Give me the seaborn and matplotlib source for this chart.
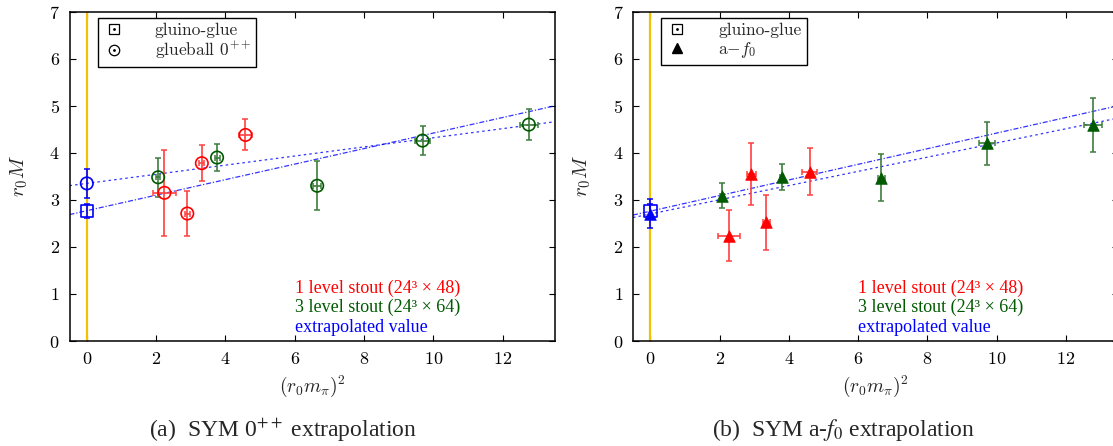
import numpy as np
import pandas as pd
import matplotlib
matplotlib.use("Agg")
import matplotlib.pyplot as plt
import seaborn as sns
from matplotlib.lines import Line2D
from matplotlib.legend_handler import HandlerTuple

# ---------------- data ----------------
# panel (a): glueball 0++
a_red_x = [2.24, 2.90, 3.32, 4.58]
a_red_y = [3.15, 2.71, 3.78, 4.38]
a_red_yerr = [0.92, 0.48, 0.38, 0.33]
a_red_xerr = [0.34, 0.07, 0.07, 0.20]

a_green_x = [2.06, 3.76, 6.65, 9.69, 12.76]
a_green_y = [3.48, 3.90, 3.30, 4.26, 4.60]
a_green_yerr = [0.42, 0.29, 0.52, 0.30, 0.33]
a_green_xerr = [0.05, 0.07, 0.12, 0.23, 0.27]

a_ext_x = [0.0, 0.0]
a_ext_y = [2.76, 3.35]          # gluino-glue, glueball
a_ext_yerr = [0.15, 0.30]

a_fit_intercept = [2.77, 3.35]  # gluino-glue fit, glueball fit
a_fit_slope = [0.165, 0.097]

# panel (b): a-f0
b_red_x = [2.27, 2.92, 3.35, 4.60]
b_red_y = [2.24, 3.55, 2.52, 3.60]
b_red_yerr = [0.55, 0.66, 0.58, 0.50]
b_red_xerr = [0.33, 0.12, 0.10, 0.22]

b_green_x = [2.07, 3.79, 6.67, 9.72, 12.78]
b_green_y = [3.09, 3.49, 3.47, 4.20, 4.59]
b_green_yerr = [0.27, 0.27, 0.50, 0.46, 0.58]
b_green_xerr = [0.05, 0.05, 0.10, 0.24, 0.27]

b_ext_x = [0.0, 0.0]
b_ext_y = [2.76, 2.71]          # gluino-glue, a-f0
b_ext_yerr = [0.15, 0.31]

b_fit_intercept = [2.76, 2.70]
b_fit_slope = [0.166, 0.151]

x_ticks = [0, 2, 4, 6, 8, 10, 12]
y_ticks = [0, 1, 2, 3, 4, 5, 6, 7]
text_lines = ["1 level stout (24\u00b3 \u00d7 48)",
              "3 level stout (24\u00b3 \u00d7 64)",
              "extrapolated value"]
captions = [r"(a)  SYM 0$^{++}$ extrapolation",
            r"(b)  SYM a-$f_0$ extrapolation"]

# ---------------- styling ----------------
sns.set_theme(style="ticks")
plt.rcParams["font.family"] = ["cmr10", "DejaVu Serif"]
plt.rcParams["mathtext.fontset"] = "cm"
plt.rcParams["axes.unicode_minus"] = False
plt.rcParams["axes.formatter.use_mathtext"] = True

RED = "#ff0000"
RED_E = "#ff4040"
GREEN = "#005a00"
GREEN_E = "#3d7d3d"
BLUE = "#0000ff"
YELLOW = "#f2c200"

W, H = 1113, 446
fig = plt.figure(figsize=(W / 100, H / 100), dpi=100)

def ax_rect(left_px, right_px, top_px, bottom_px):
    return [left_px / W, 1 - bottom_px / H, (right_px - left_px) / W, (bottom_px - top_px) / H]

axA = fig.add_axes(ax_rect(69.5, 554.5, 11.7, 341))
axB = fig.add_axes(ax_rect(633, 1118, 11.7, 341))

XL = (-0.5, 13.5)


def setup(ax):
    ax.set_xlim(*XL)
    ax.set_ylim(0, 7)
    ax.set_xticks(x_ticks)
    ax.set_yticks(y_ticks)
    ax.tick_params(direction="in", top=True, right=True, length=4, width=0.8,
                   labelsize=13, pad=7, colors="black")
    for s in ax.spines.values():
        s.set_linewidth(1.1)
        s.set_color("black")
    ax.set_xlabel(r"$(r_0m_\pi)^2$", fontsize=14, labelpad=5)
    ax.set_ylabel(r"$r_0M$", fontsize=15, labelpad=14)
    ax.axvline(0, color=YELLOW, lw=1.6, zorder=1)


def fit_lines(ax, intercepts, slopes, styles):
    xs = np.array(XL)
    for b, m, ls in zip(intercepts, slopes, styles):
        df = pd.DataFrame({"x": xs, "y": b + m * xs})
        sns.lineplot(data=df, x="x", y="y", ax=ax, color=BLUE, lw=0.9,
                     alpha=0.8, linestyle=ls, zorder=2)


def err(ax, x, y, xerr, yerr, color):
    ax.errorbar(x, y, xerr=xerr, yerr=yerr, fmt="none", ecolor=color,
                elinewidth=1.2, capsize=2.5, capthick=1.1, zorder=3)


def labels(ax):
    for t, c, yy in zip(text_lines, [RED, GREEN, BLUE], [1.12, 0.705, 0.29]):
        ax.text(6.0, yy, t, color=c, fontsize=13, va="center", ha="left",
                family=["Liberation Serif", "DejaVu Serif"])


DASHDOT = (0, (4, 1.5, 1, 1.5))
DOTTED = (0, (2, 2.5))

# ---------- panel a ----------
setup(axA)
fit_lines(axA, a_fit_intercept, a_fit_slope, [DASHDOT, DOTTED])
err(axA, a_red_x, a_red_y, a_red_xerr, a_red_yerr, RED_E)
err(axA, a_green_x, a_green_y, a_green_xerr, a_green_yerr, GREEN_E)
err(axA, a_ext_x, a_ext_y, None, a_ext_yerr, BLUE)
sns.scatterplot(x=a_red_x, y=a_red_y, ax=axA, marker="o", s=80,
                facecolors="none", edgecolor=RED, linewidth=1.2, zorder=4)
sns.scatterplot(x=a_green_x, y=a_green_y, ax=axA, marker="o", s=80,
                facecolors="none", edgecolor=GREEN, linewidth=1.2, zorder=4)
sns.scatterplot(x=a_ext_x[:1], y=a_ext_y[:1], ax=axA, marker="s", s=80,
                facecolors="none", edgecolor=BLUE, linewidth=1.2, zorder=4)
sns.scatterplot(x=a_ext_x[1:], y=a_ext_y[1:], ax=axA, marker="o", s=80,
                facecolors="none", edgecolor=BLUE, linewidth=1.2, zorder=4)
labels(axA)

sq = (Line2D([], [], marker="s", ms=7, mfc="none", mec="black", mew=0.9, ls="none"),
      Line2D([], [], marker=".", ms=2, color="black", ls="none"))
ci = (Line2D([], [], marker="o", ms=7.5, mfc="none", mec="black", mew=0.9, ls="none"),
      Line2D([], [], marker=".", ms=2, color="black", ls="none"))
tr = Line2D([], [], marker="^", ms=7, color="black", ls="none")

leg_kw = dict(loc="upper left", fontsize=12.5, frameon=True, fancybox=False,
              edgecolor="black", framealpha=1, handlelength=1.3,
              handletextpad=1.7, borderpad=0.3, labelspacing=0.1,
              borderaxespad=0)
leg_kw["handler_map"] = {tuple: HandlerTuple(ndivide=1, pad=0)}
legA = axA.legend([sq, ci], ["gluino-glue", r"glueball $0^{++}$"],
                  bbox_to_anchor=(28 / 485, 1 - 6 / 329.3), **leg_kw)
legA.get_frame().set_linewidth(1.0)

# ---------- panel b ----------
setup(axB)
fit_lines(axB, b_fit_intercept, b_fit_slope, [DASHDOT, DOTTED])
err(axB, b_red_x, b_red_y, b_red_xerr, b_red_yerr, RED_E)
err(axB, b_green_x, b_green_y, b_green_xerr, b_green_yerr, GREEN_E)
err(axB, b_ext_x, b_ext_y, None, b_ext_yerr, BLUE)
sns.scatterplot(x=b_red_x, y=b_red_y, ax=axB, marker="^", s=70,
                color=RED, edgecolor=RED, linewidth=0.5, zorder=4)
sns.scatterplot(x=b_green_x, y=b_green_y, ax=axB, marker="^", s=70,
                color=GREEN, edgecolor=GREEN, linewidth=0.5, zorder=4)
sns.scatterplot(x=b_ext_x[:1], y=b_ext_y[:1], ax=axB, marker="s", s=80,
                facecolors="none", edgecolor=BLUE, linewidth=1.2, zorder=4)
sns.scatterplot(x=b_ext_x[1:], y=b_ext_y[1:], ax=axB, marker="^", s=70,
                color=BLUE, edgecolor=BLUE, linewidth=0.5, zorder=5)
labels(axB)
legB = axB.legend([sq, tr], ["gluino-glue", r"a$-f_0$"],
                  bbox_to_anchor=(28 / 485, 1 - 6 / 329.3), **leg_kw)
legB.get_frame().set_linewidth(1.0)

# ---------- captions ----------
fig.text(283 / W, 1 - 430 / H, captions[0], ha="center", va="center",
         fontsize=17, family="Liberation Serif", math_fontfamily="stix")
fig.text(843 / W, 1 - 430 / H, captions[1], ha="center", va="center",
         fontsize=17, family="Liberation Serif", math_fontfamily="stix")

fig.savefig("out.png", dpi=100)
